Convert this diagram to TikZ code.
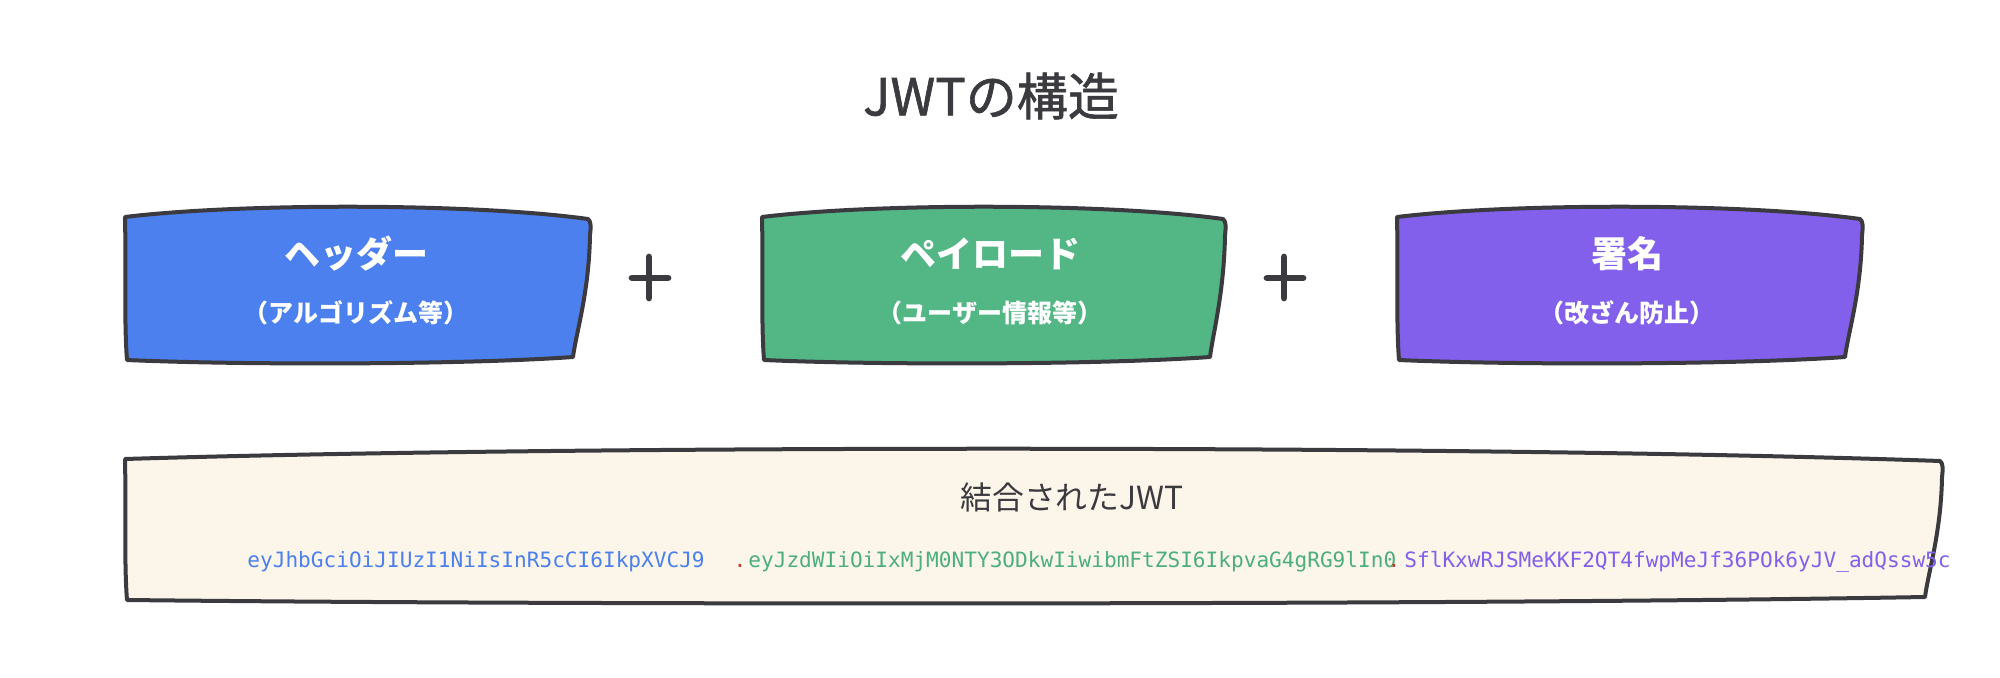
\documentclass[tikz,border=0pt]{standalone}
\usepackage{fontspec}
\setmainfont{Noto Sans CJK JP}
\newfontfamily\titlefont[FakeBold=1.2]{Noto Sans CJK JP}
\newfontfamily\tokfont{DejaVu Sans Mono}
\usetikzlibrary{calc}
\definecolor{ink}{HTML}{3B3A3F}
\definecolor{hblue}{HTML}{4C80EE}
\definecolor{pgreen}{HTML}{53B685}
\definecolor{spurple}{HTML}{8260EC}
\definecolor{beige}{HTML}{FCF5E9}
\definecolor{tgreen}{HTML}{4CAF7D}
\definecolor{dotred}{HTML}{D0392F}
\tikzset{
  sk/.style={draw=ink, line width=2pt, line join=round, line cap=round},
  boxtitle/.style={text=white, font=\bfseries\fontsize{18}{20}\selectfont, inner sep=0pt},
  boxsub/.style={text=white, font=\bfseries\fontsize{12.5}{14}\selectfont, inner sep=0pt},
  plusline/.style={draw=ink, line width=3.4pt, line cap=round},
  tok/.style={font=\tokfont\fontsize{10.55}{12}\selectfont, inner sep=0pt, anchor=base west},
}
\newcommand\sketchbox[6]{% fill, L, T, R, B, Rb
  \filldraw[sk, fill=#1] (#2,#3+12)
    .. controls ({#2+0.25*(#4-#2)},#3-2) and ({#2+0.75*(#4-#2)},#3-2) .. (#4,#3+14)
    .. controls (#4+3,#3+16) and (#4+3,#3+22) .. (#4+2,#3+30)
    .. controls (#4+1,#5-70) and (#6+3,#5-30) .. (#6,#5-6)
    .. controls ({#6-0.25*(#6-#2)},#5+2) and ({#2+0.25*(#6-#2)},#5+2) .. (#2+2,#5-3)
    .. controls (#2-1,#5-40) and (#2+1,#3+50) .. cycle;
}
\begin{document}
\begin{tikzpicture}[x=0.5pt,y=-0.5pt]
\fill[white] (0,0) rectangle (2000,678);
\useasboundingbox (0,0) rectangle (2000,678);

\node[text=ink, font=\titlefont\fontsize{25.5}{28}\selectfont, inner sep=0pt] (title) at (991,96) {JWTの構造};

\sketchbox{hblue}{125}{205}{588}{363}{573}
\sketchbox{pgreen}{762}{205}{1223}{363}{1210}
\sketchbox{spurple}{1397}{205}{1860}{363}{1845}
\sketchbox{beige}{125}{447}{1940}{603}{1925}

\node[boxtitle] (hdr) at (356,254) {ヘッダー};
\node[boxsub] (hdrsub) at (356,313) {（アルゴリズム等）};
\node[boxtitle] (pay) at (990,254) {ペイロード};
\node[boxsub] (paysub) at (990,313) {（ユーザー情報等）};
\node[boxtitle] (sig) at (1627,254) {署名};
\node[boxsub] (sigsub) at (1627,313) {（改ざん防止）};

\coordinate (p1l) at (632,278); \coordinate (p1r) at (668,278);
\coordinate (p1t) at (649,257); \coordinate (p1b) at (649,298);
\draw[plusline] (p1l) -- (p1r);
\draw[plusline] (p1t) -- (p1b);
\coordinate (p2l) at (1267,278); \coordinate (p2r) at (1303,278);
\coordinate (p2t) at (1284,257); \coordinate (p2b) at (1284,298);
\draw[plusline] (p2l) -- (p2r);
\draw[plusline] (p2t) -- (p2b);

\node[text=ink, font=\fontsize{15.9}{18}\selectfont, inner sep=0pt] (comb) at (1072,497) {結合されたJWT};

\node[tok, text=hblue] (tokh) at (247,567) {eyJhbGciOiJIUzI1NiIsInR5cCI6IkpXVCJ9};
\node[tok, text=dotred, anchor=base] (dot1) at (740,567) {.};
\node[tok, text=tgreen] (tokp) at (748,567) {eyJzdWIiOiIxMjM0NTY3ODkwIiwibmFtZSI6IkpvaG4gRG9lIn0};
\node[tok, text=dotred, anchor=base] (dot2) at (1394,567) {.};
\node[tok, text=spurple] (toks) at (1404,567) {SflKxwRJSMeKKF2QT4fwpMeJf36POk6yJV\_adQssw5c};
\end{tikzpicture}
\end{document}
